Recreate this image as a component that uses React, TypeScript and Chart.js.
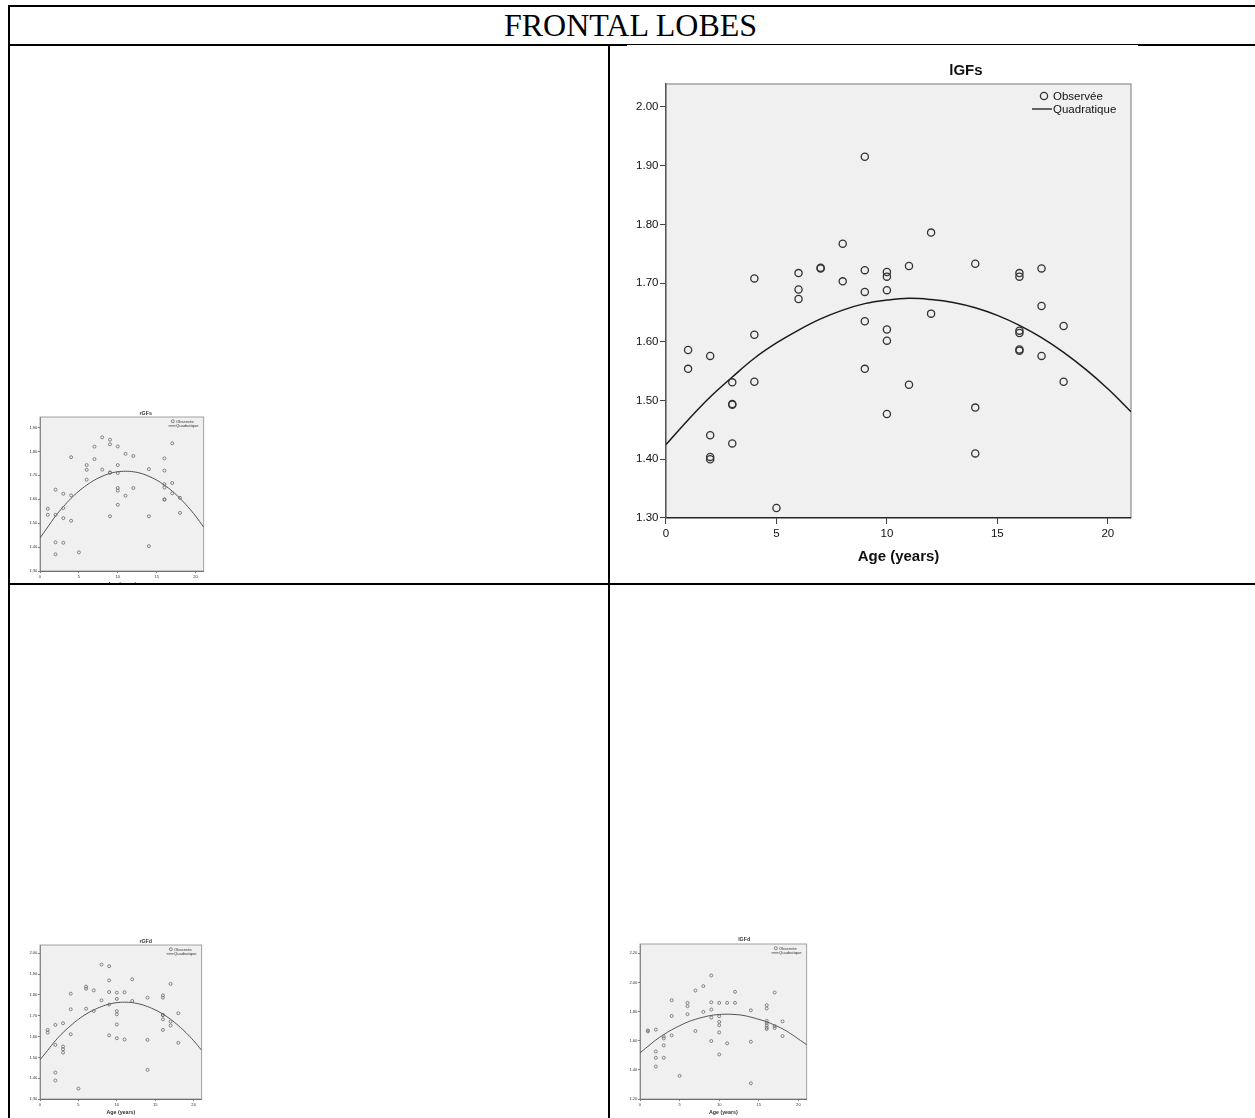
import React, { useEffect, useRef } from "react";
import { Chart, registerables } from "chart.js";

Chart.register(...registerables);

// ---------------- DATA ----------------
const TABLE_TITLE = "FRONTAL LOBES";
const LEGEND_LABELS = ["Observée", "Quadratique"];
const X_TITLE = "Age (years)";

// lGFs (large chart, top right)
const AGES_LGFS = [1, 1, 2, 2, 2, 2, 3, 3, 3, 3, 4, 4, 4, 5, 6, 6, 6, 7, 7, 8, 8, 9, 9, 9, 9, 9, 10, 10, 10, 10, 10, 10, 11, 11, 12, 12, 14, 14, 14, 16, 16, 16, 16, 16, 16, 17, 17, 17, 18, 18];
const VALUES_LGFS = [1.586, 1.554, 1.576, 1.441, 1.404, 1.4, 1.531, 1.494, 1.493, 1.427, 1.708, 1.612, 1.532, 1.317, 1.717, 1.689, 1.673, 1.726, 1.725, 1.767, 1.703, 1.915, 1.722, 1.685, 1.635, 1.554, 1.719, 1.711, 1.688, 1.621, 1.602, 1.477, 1.729, 1.527, 1.786, 1.648, 1.733, 1.488, 1.41, 1.717, 1.711, 1.619, 1.615, 1.587, 1.585, 1.725, 1.661, 1.576, 1.627, 1.532];

// rGFs (small chart, top left)
const AGES_RGFS = [1, 1, 2, 2, 2, 2, 3, 3, 3, 3, 4, 4, 4, 5, 6, 6, 6, 7, 7, 8, 8, 9, 9, 9, 9, 9, 10, 10, 10, 10, 10, 10, 11, 11, 12, 12, 14, 14, 14, 16, 16, 16, 16, 16, 16, 17, 17, 17, 18, 18];
const VALUES_RGFS = [1.56, 1.535, 1.64, 1.535, 1.42, 1.37, 1.623, 1.563, 1.521, 1.418, 1.776, 1.616, 1.51, 1.378, 1.743, 1.723, 1.682, 1.82, 1.768, 1.859, 1.724, 1.849, 1.83, 1.712, 1.711, 1.529, 1.821, 1.743, 1.71, 1.647, 1.636, 1.577, 1.79, 1.615, 1.781, 1.647, 1.726, 1.529, 1.404, 1.771, 1.72, 1.663, 1.649, 1.6, 1.598, 1.834, 1.668, 1.625, 1.606, 1.543];

// rGFd (small chart, bottom left)
const AGES_RGFD = [1, 1, 2, 2, 2, 2, 3, 3, 3, 3, 4, 4, 4, 5, 6, 6, 6, 7, 7, 8, 8, 9, 9, 9, 9, 9, 10, 10, 10, 10, 10, 10, 11, 11, 12, 12, 14, 14, 14, 16, 16, 16, 16, 16, 16, 17, 17, 17, 18, 18];
const VALUES_RGFD = [1.632, 1.619, 1.656, 1.56, 1.427, 1.389, 1.664, 1.552, 1.539, 1.523, 1.806, 1.731, 1.611, 1.35, 1.84, 1.83, 1.734, 1.822, 1.723, 1.946, 1.774, 1.938, 1.87, 1.814, 1.754, 1.606, 1.811, 1.781, 1.722, 1.707, 1.658, 1.592, 1.813, 1.586, 1.875, 1.771, 1.787, 1.584, 1.44, 1.798, 1.787, 1.704, 1.703, 1.683, 1.632, 1.853, 1.672, 1.653, 1.712, 1.57];

// lGFd (small chart, bottom right)
const AGES_LGFD = [1, 1, 2, 2, 2, 2, 3, 3, 3, 3, 4, 4, 4, 5, 6, 6, 6, 7, 7, 8, 8, 9, 9, 9, 9, 9, 10, 10, 10, 10, 10, 10, 11, 11, 12, 12, 14, 14, 14, 16, 16, 16, 16, 16, 16, 16, 17, 17, 17, 18, 18];
const VALUES_LGFD = [1.671, 1.664, 1.676, 1.526, 1.483, 1.423, 1.63, 1.616, 1.568, 1.483, 1.878, 1.77, 1.637, 1.359, 1.86, 1.837, 1.782, 1.945, 1.667, 1.975, 1.798, 2.048, 1.864, 1.814, 1.759, 1.598, 1.86, 1.768, 1.729, 1.706, 1.657, 1.506, 1.86, 1.582, 1.936, 1.86, 1.809, 1.593, 1.308, 1.844, 1.821, 1.736, 1.722, 1.706, 1.69, 1.68, 1.931, 1.701, 1.687, 1.733, 1.632];

// Fitted quadratic curves at these ages
const CURVE_AGES = [0, 1, 2, 3, 4, 5, 6, 7, 8, 9, 10, 11, 12, 13, 14, 15, 16, 17, 18, 19, 20, 21.05];
const CURVE_LGFS = [1.425, 1.467, 1.506, 1.54, 1.572, 1.598, 1.62, 1.639, 1.654, 1.665, 1.671, 1.674, 1.672, 1.667, 1.658, 1.645, 1.628, 1.607, 1.582, 1.553, 1.52, 1.481];
const CURVE_RGFS = [1.438, 1.484, 1.53, 1.569, 1.604, 1.634, 1.659, 1.68, 1.696, 1.708, 1.715, 1.717, 1.715, 1.708, 1.696, 1.68, 1.659, 1.634, 1.604, 1.569, 1.53, 1.483];
const CURVE_RGFD = [1.488, 1.534, 1.58, 1.619, 1.653, 1.683, 1.708, 1.728, 1.744, 1.756, 1.763, 1.765, 1.763, 1.756, 1.744, 1.728, 1.708, 1.683, 1.653, 1.619, 1.58, 1.534];
const CURVE_LGFD = [1.517, 1.561, 1.605, 1.642, 1.675, 1.703, 1.728, 1.747, 1.762, 1.774, 1.78, 1.782, 1.78, 1.774, 1.762, 1.747, 1.73, 1.707, 1.682, 1.649, 1.612, 1.572];

const X_MIN = 0;
const X_MAX = 21.05;
const X_STEP = 5;

// ---------------- STYLE / LAYOUT ----------------
const SANS = "'Liberation Sans', Arial, Helvetica, sans-serif";
const SERIF = "'Liberation Serif', 'Times New Roman', Times, serif";
const MARGIN = { left: 39, top: 39, right: 7, bottom: 57 };

type Area = { l: number; t: number; r: number; b: number };
type Spec = {
  title: string;
  ages: number[];
  values: number[];
  curve: number[];
  yMin: number;
  yMax: number;
  yStep: number;
  area: Area;
  k: number;
  titleFrac: number;
  titleGap: number;
  small: boolean;
  whiteBox?: boolean;
};

function layoutFor(area: Area, k: number) {
  const cl = Math.round(area.l - MARGIN.left * k);
  const ct = Math.round(area.t - MARGIN.top * k);
  const cr = Math.round(area.r + MARGIN.right * k);
  const cb = Math.round(area.b + MARGIN.bottom * k);
  return {
    left: cl,
    top: ct,
    width: cr - cl,
    height: cb - ct,
    padTop: area.t - ct,
    padRight: cr - area.r,
    yWidth: area.l - cl,
    xHeight: cb - area.b,
  };
}

const spssDecor = {
  id: "spssDecor",
  beforeDraw(chart: any, _args: any, opts: any) {
    const { ctx, chartArea: a } = chart;
    ctx.save();
    ctx.fillStyle = "#f0f0f0";
    ctx.fillRect(a.left, a.top, a.right - a.left, a.bottom - a.top);
    ctx.strokeStyle = "#8c8c8c";
    ctx.lineWidth = opts.frameWidth;
    ctx.strokeRect(a.left, a.top, a.right - a.left, a.bottom - a.top);
    ctx.restore();
  },
  afterDraw(chart: any, _args: any, opts: any) {
    const { ctx, chartArea: a } = chart;
    const k = opts.k;
    ctx.save();
    ctx.fillStyle = opts.textColor;
    ctx.textAlign = "center";
    ctx.textBaseline = "middle";
    ctx.font = `bold ${15 * k}px ${SANS}`;
    ctx.fillText(opts.title, a.left + opts.titleFrac * (a.right - a.left), a.top - opts.titleGap);

    ctx.font = `${11.5 * k}px ${SANS}`;
    ctx.textAlign = "left";
    const tx = a.right - 78 * k;
    chart.data.datasets.forEach((ds: any, i: number) => {
      const y = a.top + (12 + 13 * i) * k;
      ctx.strokeStyle = opts.markColor;
      if (ds.showLine) {
        ctx.lineWidth = opts.lineWidth;
        ctx.beginPath();
        ctx.moveTo(tx - 21 * k, y);
        ctx.lineTo(tx - 1 * k, y);
        ctx.stroke();
      } else {
        ctx.lineWidth = opts.pointBorder;
        ctx.beginPath();
        ctx.arc(tx - 9 * k, y, opts.pointRadius, 0, Math.PI * 2);
        ctx.stroke();
      }
      ctx.fillStyle = opts.textColor;
      ctx.fillText(ds.label, tx, y + 0.5 * k);
    });
    ctx.restore();
  },
};

function ChartPanel({ spec, offsetX = 0, offsetY = 0 }: { spec: Spec; offsetX?: number; offsetY?: number }) {
  const ref = useRef<HTMLCanvasElement | null>(null);
  const L = layoutFor(spec.area, spec.k);

  useEffect(() => {
    if (!ref.current) return;
    const k = spec.k;
    const small = spec.small;
    const markColor = small ? "#6a6a6a" : "#333";
    const textColor = small ? "#333" : "#111";
    const pointRadius = small ? 1.5 : 3.6;
    const pointBorder = small ? 0.8 : 1.3;
    const lineWidth = small ? 1.0 : 1.5;
    const axisW = small ? 0.8 : 1.3;
    const tickFont = { family: SANS, size: 11.5 * k };
    const titleLine = 15 * k * 1.2;
    const titlePadBottom = L.xHeight - 39 * k - titleLine / 2;

    const chart = new Chart(ref.current, {
      type: "scatter",
      data: {
        datasets: [
          {
            label: LEGEND_LABELS[0],
            data: spec.ages.map((a, i) => ({ x: a, y: spec.values[i] })),
            showLine: false,
            pointRadius,
            pointHoverRadius: pointRadius,
            pointBorderWidth: pointBorder,
            pointBorderColor: markColor,
            pointBackgroundColor: "rgba(0,0,0,0)",
          },
          {
            label: LEGEND_LABELS[1],
            data: CURVE_AGES.map((a, i) => ({ x: a, y: spec.curve[i] })),
            showLine: true,
            tension: 0.4,
            borderColor: small ? "#505050" : "#1a1a1a",
            borderWidth: lineWidth,
            pointRadius: 0,
            pointHoverRadius: 0,
            fill: false,
          },
        ],
      },
      options: {
        responsive: false,
        animation: false,
        events: [],
        layout: { padding: { top: L.padTop, right: L.padRight, left: 0, bottom: 0 } },
        plugins: {
          legend: { display: false },
          title: { display: false },
          tooltip: { enabled: false },
          spssDecor: {
            k,
            title: spec.title,
            titleFrac: spec.titleFrac,
            titleGap: spec.titleGap,
            markColor,
            textColor,
            pointRadius,
            pointBorder,
            lineWidth,
            frameWidth: small ? 0.8 : 1.2,
          },
        } as any,
        scales: {
          x: {
            type: "linear",
            min: X_MIN,
            max: X_MAX,
            afterFit: (s: any) => {
              s.height = L.xHeight;
            },
            ticks: {
              stepSize: X_STEP,
              includeBounds: false,
              autoSkip: false,
              maxRotation: 0,
              font: tickFont,
              color: textColor,
              padding: 2.5 * k,
              callback: (v: any) => String(v),
            },
            grid: {
              display: true,
              drawOnChartArea: false,
              drawTicks: true,
              tickLength: 6 * k,
              color: "#444",
              lineWidth: axisW * 0.8,
            },
            border: { display: true, color: small ? "#555" : "#222", width: axisW },
            title: {
              display: true,
              text: X_TITLE,
              color: textColor,
              font: { family: SANS, size: 15 * k, weight: "bold" },
              padding: { top: 0, bottom: titlePadBottom },
            },
          },
          y: {
            type: "linear",
            min: spec.yMin,
            max: spec.yMax,
            afterFit: (s: any) => {
              s.width = L.yWidth;
            },
            ticks: {
              stepSize: spec.yStep,
              includeBounds: false,
              autoSkip: false,
              font: tickFont,
              color: textColor,
              padding: 1.5 * k,
              callback: (v: any) => Number(v).toFixed(2),
            },
            grid: {
              display: true,
              drawOnChartArea: false,
              drawTicks: true,
              tickLength: 6 * k,
              color: "#444",
              lineWidth: axisW * 0.8,
            },
            border: { display: true, color: small ? "#777" : "#555", width: axisW },
          },
        } as any,
      },
      plugins: [spssDecor as any],
    });
    return () => chart.destroy();
  }, []);

  return (
    <div
      style={{
        position: "absolute",
        left: L.left - offsetX,
        top: L.top - offsetY,
        width: L.width,
        height: L.height,
        background: spec.whiteBox ? "#fff" : "transparent",
      }}
    >
      <canvas ref={ref} width={L.width} height={L.height} style={{ display: "block", width: L.width, height: L.height }} />
    </div>
  );
}

const SMALL_K = 0.355;

const SPEC_LGFS: Spec = {
  title: "lGFs",
  ages: AGES_LGFS,
  values: VALUES_LGFS,
  curve: CURVE_LGFS,
  yMin: 1.3,
  yMax: 2.039,
  yStep: 0.1,
  area: { l: 666, t: 84, r: 1131, b: 518 },
  k: 1,
  titleFrac: 0.645,
  titleGap: 13,
  small: false,
  whiteBox: true,
};

const SPEC_RGFS: Spec = {
  title: "rGFs",
  ages: AGES_RGFS,
  values: VALUES_RGFS,
  curve: CURVE_RGFS,
  yMin: 1.3,
  yMax: 1.944,
  yStep: 0.1,
  area: { l: 40, t: 417, r: 204, b: 571 },
  k: SMALL_K,
  titleFrac: 0.646,
  titleGap: 3.3,
  small: true,
};

const SPEC_RGFD: Spec = {
  title: "rGFd",
  ages: AGES_RGFD,
  values: VALUES_RGFD,
  curve: CURVE_RGFD,
  yMin: 1.3,
  yMax: 2.04,
  yStep: 0.1,
  area: { l: 40, t: 945, r: 202, b: 1099 },
  k: SMALL_K,
  titleFrac: 0.654,
  titleGap: 3.3,
  small: true,
};

const SPEC_LGFD: Spec = {
  title: "lGFd",
  ages: AGES_LGFD,
  values: VALUES_LGFD,
  curve: CURVE_LGFD,
  yMin: 1.2,
  yMax: 2.264,
  yStep: 0.2,
  area: { l: 640, t: 944, r: 807, b: 1099 },
  k: SMALL_K,
  titleFrac: 0.625,
  titleGap: 4,
  small: true,
};

function Line({ l, t, w, h }: { l: number; t: number; w: number; h: number }) {
  return <div style={{ position: "absolute", left: l, top: t, width: w, height: h, background: "#000" }} />;
}

export default function App() {
  return (
    <div
      style={{
        position: "absolute",
        left: 0,
        top: 0,
        width: 1255,
        height: 1118,
        overflow: "hidden",
        background: "#fff",
      }}
    >
      {/* table borders */}
      <Line l={8} t={5} w={1260} h={2} />
      <Line l={8} t={5} w={2} h={1120} />
      <Line l={8} t={44} w={1260} h={2} />
      <Line l={608} t={44} w={2} h={1080} />
      <Line l={8} t={583} w={1260} h={2} />

      <div
        style={{
          position: "absolute",
          left: 8,
          top: 9,
          width: 1245,
          textAlign: "center",
          fontFamily: SERIF,
          fontSize: 32,
          lineHeight: "32px",
          color: "#000",
          whiteSpace: "nowrap",
        }}
      >
        {TABLE_TITLE}
      </div>

      {/* top-left cell, clipped at row border */}
      <div style={{ position: "absolute", left: 10, top: 46, width: 598, height: 537, overflow: "hidden" }}>
        <ChartPanel spec={SPEC_RGFS} offsetX={10} offsetY={46} />
      </div>

      <ChartPanel spec={SPEC_LGFS} />
      <ChartPanel spec={SPEC_RGFD} />
      <ChartPanel spec={SPEC_LGFD} />
    </div>
  );
}
